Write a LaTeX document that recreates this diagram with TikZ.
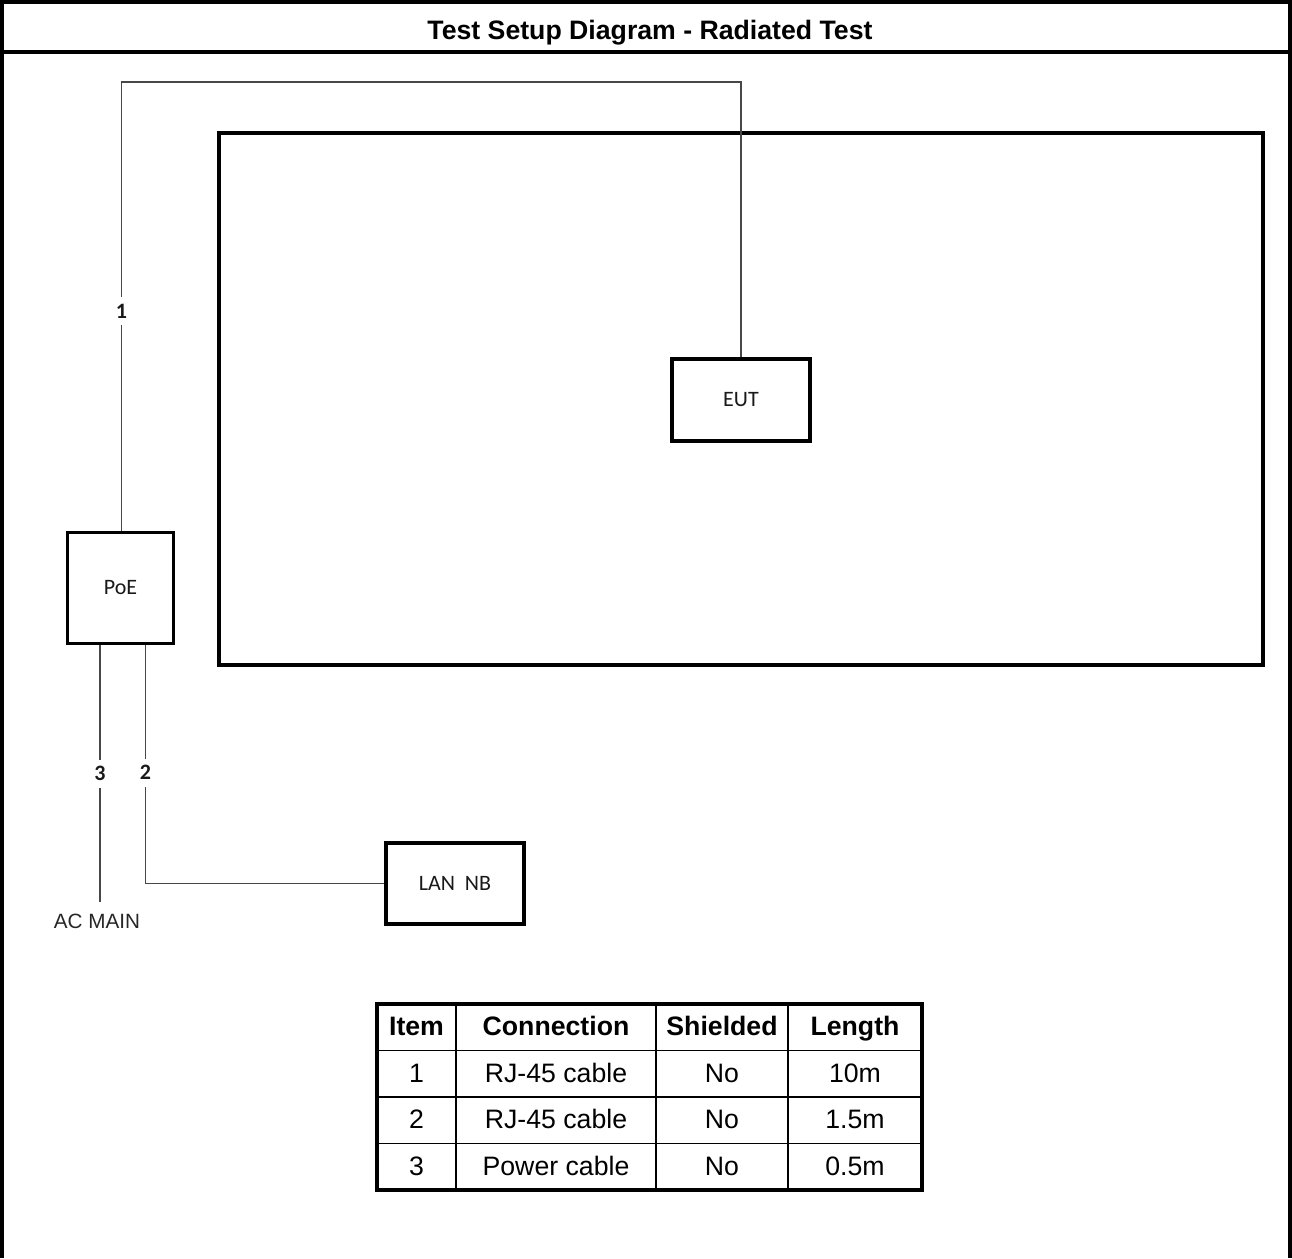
\documentclass[tikz,border=0pt]{standalone}
\usepackage{fontspec}
\setmainfont{Liberation Sans}
\newfontfamily\calib{Carlito}
\begin{document}
\begin{tikzpicture}[x=0.75pt,y=-0.75pt,
  frame/.style={line width=3pt,black},
  box/.style={draw=black,line width=2.5pt,fill=white,inner sep=0pt,font=\calib\fontsize{16.5}{19}\selectfont,text=black!90},
  cable/.style={draw=black!72,line width=1.25pt},
  lbl/.style={fill=white,inner xsep=2pt,inner ysep=5pt,font=\calib\bfseries\fontsize{16.5}{19}\selectfont,text=black!90},
  tabouter/.style={line width=2.4pt,black},
  tabinner/.style={line width=1.3pt,black},
  cell/.style={anchor=base,font=\fontsize{20}{24}\selectfont,text=black},
  hcell/.style={anchor=base,font=\bfseries\fontsize{20}{24}\selectfont,text=black}]
\useasboundingbox (0,0) rectangle (1292,1258);
% outer frame
\draw[frame] (2,1258) -- (2,2) -- (1290,2) -- (1290,1258);
\draw[line width=2.5pt] (2,52) -- (1290,52);
\node[anchor=base,font=\bfseries\fontsize{20}{24}\selectfont] (title) at (650,39.5) {Test Setup Diagram - Radiated Test};
% big rectangle (test table)
\node[draw=black,line width=2.4pt,minimum width=1044*0.75pt,minimum height=532*0.75pt,inner sep=0pt] (table) at (741,399) {};
% boxes
\node[box,minimum width=138*0.75pt,minimum height=82*0.75pt] (eut) at (741,400) {EUT};
\node[box,minimum width=106*0.75pt,minimum height=111*0.75pt] (poe) at (120.5,588) {PoE};
\node[box,minimum width=138*0.75pt,minimum height=81*0.75pt] (lan) at (455,883.5) {LAN\ \ NB};
\node[anchor=base,font=\fontsize{15.5}{18}\selectfont,text=black!85,inner sep=0pt] (acmain) at (97,928) {AC MAIN};
% cables
\coordinate (c1top) at (121.5,82);
\coordinate (c3end) at (100,902);
\coordinate (c2x) at (145.5,0);
\draw[cable] (poe.north -| c1top) -- node[lbl,pos=0.49]{1} (c1top) -| (eut.north);
\draw[cable] (poe.south -| c3end) -- node[lbl,pos=0.5]{3} (c3end);
\draw[cable] (poe.south -| c2x) -- node[lbl,pos=0.535]{2} (c2x |- lan.west) -- (lan.west);
% connection table
\draw[tabinner] (456,1004) -- (456,1190) (656,1004) -- (656,1190) (788,1004) -- (788,1190);
\draw[tabinner] (377,1050.5) -- (922,1050.5) (377,1097) -- (922,1097) (377,1143.5) -- (922,1143.5);
\draw[tabouter] (377,1004) rectangle (922,1190);
\node[hcell] (h1) at (416.5,1035) {Item};
\node[hcell] (h2) at (556,1035) {Connection};
\node[hcell] (h3) at (722,1035) {Shielded};
\node[hcell] (h4) at (855,1035) {Length};
\node[cell] (r1a) at (416.5,1082) {1};
\node[cell] (r1b) at (556,1082) {RJ-45 cable};
\node[cell] (r1c) at (722,1082) {No};
\node[cell] (r1d) at (855,1082) {10m};
\node[cell] (r2a) at (416.5,1128.5) {2};
\node[cell] (r2b) at (556,1128.5) {RJ-45 cable};
\node[cell] (r2c) at (722,1128.5) {No};
\node[cell] (r2d) at (855,1128.5) {1.5m};
\node[cell] (r3a) at (416.5,1175) {3};
\node[cell] (r3b) at (556,1175) {Power cable};
\node[cell] (r3c) at (722,1175) {No};
\node[cell] (r3d) at (855,1175) {0.5m};
\end{tikzpicture}
\end{document}
